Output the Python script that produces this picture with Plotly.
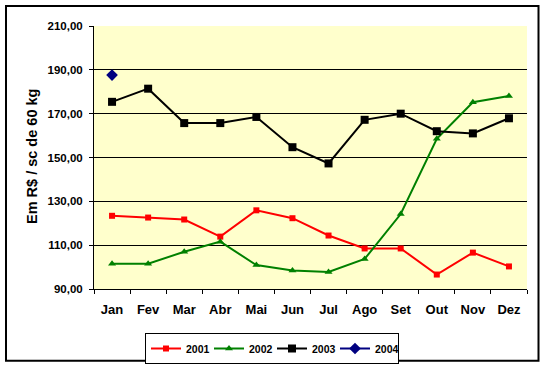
import plotly.graph_objects as go

months = ["Jan", "Fev", "Mar", "Abr", "Mai", "Jun", "Jul", "Ago", "Set", "Out", "Nov", "Dez"]
y2001 = [123.4, 122.6, 121.7, 113.9, 125.9, 122.3, 114.4, 108.5, 108.5, 96.6, 106.6, 100.3]
y2002 = [101.5, 101.5, 107.0, 111.6, 100.9, 98.4, 97.8, 103.7, 124.2, 158.5, 175.2, 178.1]
y2003 = [175.4, 181.4, 165.7, 165.7, 168.5, 154.7, 147.3, 167.2, 170.0, 162.0, 161.0, 167.9]
y2004 = [187.6]
ytick_vals = [90, 110, 130, 150, 170, 190, 210]
grid_vals = [110, 130, 150, 170, 190]

FONT = "Liberation Sans, Arial, sans-serif"

# plot area in pixels
L, R, T, B = 94, 527, 26, 289
PW, PH = R - L, B - T

def px_x(p):
    return (p - L) / PW

def px_y(p):
    return (B - p) / PH

fig = go.Figure()
fig.add_trace(go.Scatter(x=months, y=y2001, name="2001", mode="lines+markers",
                         line=dict(color="#FF0000", width=2),
                         marker=dict(symbol="square", size=6, color="#FF0000")))
fig.add_trace(go.Scatter(x=months, y=y2002, name="2002", mode="lines+markers",
                         line=dict(color="#008000", width=2),
                         marker=dict(symbol="triangle-up", size=7, color="#008000")))
fig.add_trace(go.Scatter(x=months, y=y2003, name="2003", mode="lines+markers",
                         line=dict(color="#000000", width=2),
                         marker=dict(symbol="square", size=8, color="#000000")))
fig.add_trace(go.Scatter(x=months[:1], y=y2004, name="2004", mode="lines+markers",
                         line=dict(color="#000080", width=2),
                         marker=dict(symbol="diamond", size=9, color="#000080")))
# invisible trace to activate the grid axis
fig.add_trace(go.Scatter(x=[months[0]], y=[150], yaxis="y2", mode="markers",
                         marker=dict(opacity=0), showlegend=False, hoverinfo="skip"))

fig.update_layout(
    width=543, height=367,
    margin=dict(l=L, r=543 - R, t=T, b=367 - B),
    paper_bgcolor="white",
    plot_bgcolor="#FFFFCC",
    separators=",.",
    font=dict(family=FONT, color="black"),
    xaxis=dict(
        type="category", categoryorder="array", categoryarray=months,
        range=[-0.5, 11.5],
        showgrid=False, zeroline=False,
        showline=True, linecolor="black", linewidth=1,
        ticks="outside", tickson="boundaries", ticklen=4, tickcolor="black",
        tickfont=dict(family=FONT, size=13, color="black", weight="bold"),
        ticklabelstandoff=8,
    ),
    yaxis=dict(
        range=[90, 210], tickvals=ytick_vals, tickformat=".2f",
        showgrid=False, zeroline=False,
        showline=True, linecolor="black", linewidth=1,
        ticks="outside", ticklen=4, tickcolor="black",
        tickfont=dict(family=FONT, size=11.5, color="black", weight="bold"),
        ticklabelstandoff=4,
    ),
    yaxis2=dict(
        overlaying="y", matches="y", range=[90, 210], tickvals=grid_vals,
        showgrid=True, gridcolor="black", gridwidth=1,
        showticklabels=False, ticks="", showline=False, zeroline=False,
    ),
    showlegend=True,
    legend=dict(
        orientation="h", xref="container", yref="container",
        x=145 / 543, y=1 - 333 / 367, xanchor="left", yanchor="top",
        bordercolor="black", borderwidth=1, bgcolor="white",
        font=dict(family=FONT, size=10.5, color="black", weight="bold"),
        itemwidth=30, tracegroupgap=0, entrywidth=18,
    ),
    annotations=[dict(
        text="Em R$ / sc de 60 kg", textangle=-90,
        xref="paper", yref="paper", x=px_x(32), y=px_y(157),
        xanchor="center", yanchor="middle", showarrow=False,
        font=dict(family=FONT, size=14.5, color="black", weight="bold"),
    )],
    shapes=[dict(
        type="rect", xref="paper", yref="paper",
        x0=px_x(6), x1=px_x(538.5),
        y0=px_y(360.8), y1=px_y(6),
        line=dict(color="black", width=2), fillcolor="rgba(0,0,0,0)", layer="below",
    )],
)

fig.write_html("out.html", config={"displayModeBar": False},
               post_script="document.body.style.margin='0';")
